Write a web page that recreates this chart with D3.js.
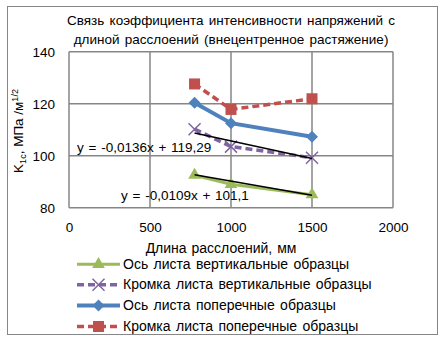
<!DOCTYPE html>
<html><head><meta charset="utf-8">
<script src="https://cdn.jsdelivr.net/npm/d3@7"></script>
<style>body{margin:0;background:#fff}svg{display:block}text{font-family:"Liberation Sans",Arial,sans-serif;fill:#000}</style>
</head><body>
<script>
const lengths = [775, 1000, 1500];
const axisVert = [92.5, 89.0, 85.0];
const edgeVert = [110.2, 103.5, 99.2];
const axisTrans = [120.4, 112.5, 107.3];
const edgeTrans = [127.6, 117.8, 121.9];
const seriesNames = ["Ось листа вертикальные образцы","Кромка листа вертикальные образцы","Ось листа поперечные образцы","Кромка листа поперечные образцы"];
const xTicks = [0, 500, 1000, 1500, 2000];
const yTicks = [80, 100, 120, 140];
const trendLines = [{a:-0.0109,b:101.1,label:"y = -0,0109x + 101,1"},{a:-0.0136,b:119.29,label:"y = -0,0136x + 119,29"}];
const titleLines = ["Связь коэффициента интенсивности напряжений с","длиной расслоений (внецентренное растяжение)"];

const W=448,H=341;
const svg=d3.select("body").append("svg").attr("width",W).attr("height",H);
svg.append("rect").attr("x",7.5).attr("y",6.5).attr("width",430).attr("height",328).attr("fill","#fff").attr("stroke","#868686").attr("stroke-width",1);

const x=d3.scaleLinear().domain([0,2000]).range([69,393]);
const y=d3.scaleLinear().domain([80,140]).range([207.7,51.7]);

// title
svg.selectAll(".title").data(titleLines).enter().append("text")
 .attr("x",231).attr("y",(d,i)=>25+i*19).attr("text-anchor","middle").attr("font-size",13.5).attr("word-spacing",1.5).text(d=>d);

// grid
const g=svg.append("g");
g.selectAll(".vg").data(xTicks).enter().append("line")
 .attr("x1",d=>x(d)).attr("x2",d=>x(d)).attr("y1",y(140)).attr("y2",y(80)).attr("stroke","#868686").attr("stroke-width",1.5);
g.selectAll(".hg").data(yTicks).enter().append("line")
 .attr("x1",x(0)).attr("x2",x(2000)).attr("y1",d=>y(d)).attr("y2",d=>y(d)).attr("stroke","#868686").attr("stroke-width",1.5);

// axes labels via d3 axes
const xa=svg.append("g").attr("transform",`translate(0,${y(80)})`).call(d3.axisBottom(x).tickValues(xTicks).tickSize(0).tickPadding(15).tickFormat(d3.format("d")));
xa.select(".domain").remove();
xa.selectAll("text").attr("font-size",13.5).attr("font-family","Liberation Sans, Arial").attr("fill","#000");
const ya=svg.append("g").attr("transform",`translate(${x(0)},0)`).call(d3.axisLeft(y).tickValues(yTicks).tickSize(0).tickPadding(14));
ya.select(".domain").remove();
ya.selectAll("text").attr("font-size",13.5).attr("font-family","Liberation Sans, Arial").attr("fill","#000");

// axis titles
svg.append("text").attr("x",221).attr("y",253).attr("text-anchor","middle").attr("font-size",14).attr("word-spacing",1).text("Длина расслоений, мм");
const yt=svg.append("text").attr("transform","translate(23,131) rotate(-90)").attr("text-anchor","middle").attr("font-size",13.5);
yt.append("tspan").text("K");
yt.append("tspan").attr("font-size",9).attr("dy",3).text("1c");
yt.append("tspan").attr("dy",-3).text(", МПа /м");
yt.append("tspan").attr("font-size",9).attr("dy",-5).text("1/2");

const series=[
 {vals:axisVert,color:"#9BBB59",dash:null,w:3,marker:"tri"},
 {vals:edgeVert,color:"#8064A2",dash:"7,4",w:3.5,marker:"x"},
 {vals:axisTrans,color:"#4F81BD",dash:null,w:4,marker:"dia"},
 {vals:edgeTrans,color:"#C0504D",dash:"7,4",w:3.5,marker:"sq"}
];
const line=d3.line().x(d=>x(d[0])).y(d=>y(d[1]));
function marker(sel,type,color,cx,cy,s){
 if(type==="tri") sel.append("path").attr("d",d3.symbol(d3.symbolTriangle,s||70)()).attr("transform",`translate(${cx},${cy})`).attr("fill",color);
 if(type==="dia") sel.append("path").attr("d",`M0,-6L6,0L0,6L-6,0Z`).attr("transform",`translate(${cx},${cy})`).attr("fill",color);
 if(type==="sq") sel.append("rect").attr("x",cx-5.5).attr("y",cy-5.5).attr("width",11).attr("height",11).attr("fill",color);
 if(type==="x") sel.append("path").attr("d","M-6,-6L6,6M-6,6L6,-6").attr("transform",`translate(${cx},${cy})`).attr("stroke",color).attr("stroke-width",1.5).attr("fill","none");
}
series.forEach(s=>{
 const pts=lengths.map((l,i)=>[l,s.vals[i]]);
 svg.append("path").datum(pts).attr("d",line).attr("fill","none").attr("stroke",s.color).attr("stroke-width",s.w).attr("stroke-dasharray",s.dash);
 pts.forEach(p=>marker(svg,s.marker,s.color,x(p[0]),y(p[1])));
});
// trendlines
trendLines.forEach(t=>{
 const pts=[lengths[0],lengths[lengths.length-1]].map(l=>[l,t.a*l+t.b]);
 svg.append("path").datum(pts).attr("d",line).attr("stroke","#000").attr("stroke-width",1.5).attr("fill","none");
});
svg.append("text").attr("x",121).attr("y",200).attr("font-size",13.5).attr("word-spacing",1).text(trendLines[0].label);
svg.append("text").attr("x",77).attr("y",152).attr("font-size",13.5).attr("word-spacing",1).text(trendLines[1].label);

// legend
const lg=svg.append("g");
const ly=[264.3,284.8,305.5,326.5];
series.forEach((s,i)=>{
 lg.append("line").attr("x1",77).attr("x2",120).attr("y1",ly[i]).attr("y2",ly[i]).attr("stroke",s.color).attr("stroke-width",s.w).attr("stroke-dasharray",s.dash);
 marker(lg,s.marker,s.color,98.5,ly[i]);
 lg.append("text").attr("x",123).attr("y",ly[i]+4.5).attr("font-size",14).attr("word-spacing",1.5).text(seriesNames[i]);
});
</script>
</body></html>
